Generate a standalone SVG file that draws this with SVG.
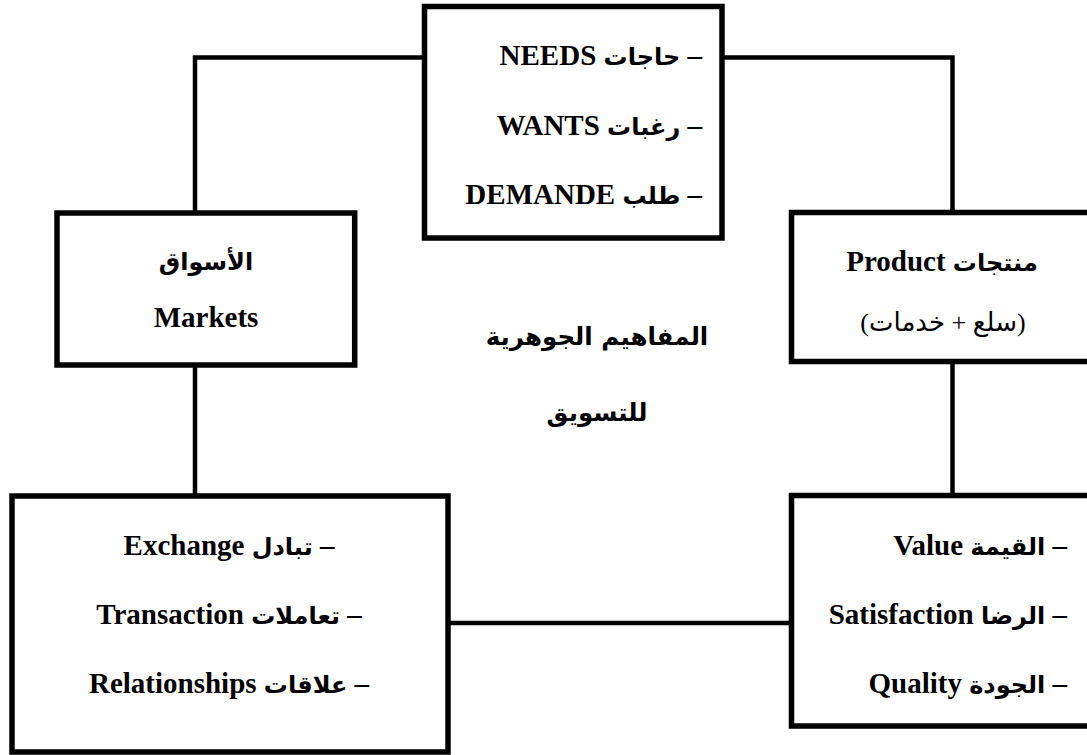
<svg xmlns="http://www.w3.org/2000/svg" width="1087" height="755" viewBox="0 0 1087 755">
  <style>
    .box { fill: #ffffff; stroke: #000000; stroke-width: 5.5; }
    .link { fill: none; stroke: #000000; stroke-width: 4.5; }
    .t { font-family: "Liberation Serif", "DejaVu Sans", serif; font-weight: bold; font-size: 29px; fill: #000000; }
    .sub { font-family: "Liberation Serif", "DejaVu Sans", serif; font-weight: normal; font-size: 26px; fill: #000000; }
    .big { font-family: "DejaVu Sans", "Liberation Serif", serif; font-weight: bold; font-size: 24.5px; fill: #000000; }
    .ar { font-size: 24px; }
  </style>
  <rect width="1087" height="755" fill="#ffffff"/>

  <!-- connectors -->
  <g id="connectors">
    <path class="link" d="M424.5 57.5 H195 V213"/>
    <path class="link" d="M722 57.5 H952.5 V212.5"/>
    <path class="link" d="M195 365 V496"/>
    <path class="link" d="M952.5 361.5 V495.5"/>
    <path class="link" d="M448 623 H791.5"/>
  </g>

  <!-- needs / wants / demand -->
  <g id="needs">
    <rect class="box" x="424.5" y="6.5" width="297.5" height="231.5"/>
    <text class="t" x="702" y="65" text-anchor="end">NEEDS <tspan class="ar">حاجات</tspan> –</text>
    <text class="t" x="702" y="135" text-anchor="end">WANTS <tspan class="ar">رغبات</tspan> –</text>
    <text class="t" x="702" y="204" text-anchor="end">DEMANDE <tspan class="ar">طلب</tspan> –</text>
  </g>

  <!-- markets -->
  <g id="markets">
    <rect class="box" x="57" y="213" width="297.7" height="152"/>
    <text class="t" x="206" y="270" text-anchor="middle"><tspan class="ar">الأسواق</tspan></text>
    <text class="t" x="206" y="327" text-anchor="middle">Markets</text>
  </g>

  <!-- product -->
  <g id="product">
    <rect class="box" x="791.5" y="212.5" width="305" height="149"/>
    <text class="t" x="942" y="271" text-anchor="middle">Product <tspan class="ar">منتجات</tspan></text>
    <text class="sub" x="943" y="331" text-anchor="middle">(سلع + خدمات)</text>
  </g>

  <!-- central title -->
  <g id="title">
    <text class="big" x="597" y="345" text-anchor="middle">المفاهيم الجوهرية</text>
    <text class="big" x="597" y="421" text-anchor="middle">للتسويق</text>
  </g>

  <!-- exchange / transaction / relationships -->
  <g id="exchange">
    <rect class="box" x="12" y="496" width="436" height="256"/>
    <text class="t" x="229" y="555" text-anchor="middle">Exchange <tspan class="ar">تبادل</tspan> –</text>
    <text class="t" x="229" y="624" text-anchor="middle">Transaction <tspan class="ar">تعاملات</tspan> –</text>
    <text class="t" x="229" y="693" text-anchor="middle">Relationships <tspan class="ar">علاقات</tspan> –</text>
  </g>

  <!-- value / satisfaction / quality -->
  <g id="value">
    <rect class="box" x="791.5" y="495.5" width="305" height="230.5"/>
    <text class="t" x="1067" y="555" text-anchor="end">Value <tspan class="ar">القيمة</tspan> –</text>
    <text class="t" x="1067" y="624" text-anchor="end">Satisfaction <tspan class="ar">الرضا</tspan> –</text>
    <text class="t" x="1067" y="693" text-anchor="end">Quality <tspan class="ar">الجودة</tspan> –</text>
  </g>
</svg>
